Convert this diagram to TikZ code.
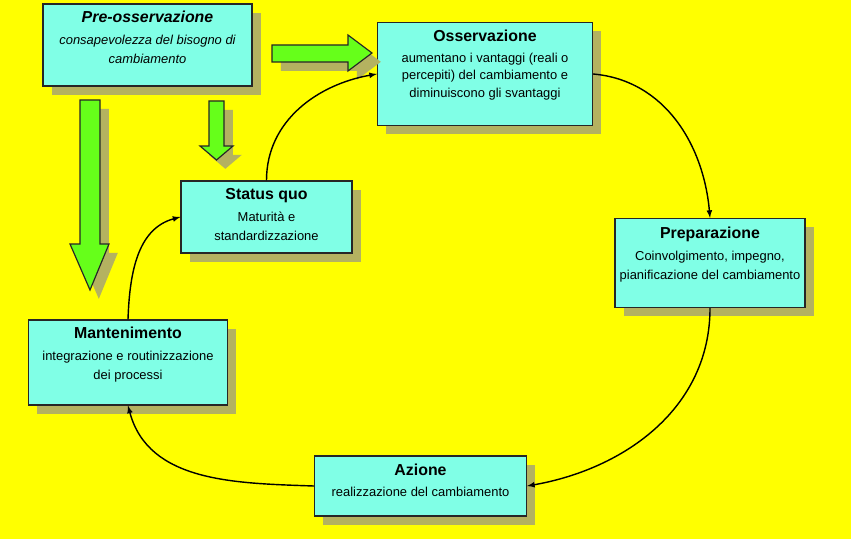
\documentclass[tikz,border=0pt]{standalone}
\usepackage{fontspec}
\setmainfont{Liberation Sans}
\usetikzlibrary{shapes,arrows,positioning,shadows}

\definecolor{bgyellow}{RGB}{255,255,0}
\definecolor{boxcyan}{RGB}{128,255,230}
\definecolor{arrowgreen}{RGB}{102,255,26}
\definecolor{shadowolive}{RGB}{180,178,96}

\newcommand{\px}{0.85pt}
\newcommand{\titlefont}{\fontsize{13.5}{16}\selectfont\bfseries}
\newcommand{\bodyfont}{\fontsize{11}{15.8}\selectfont}

\begin{document}
\begin{tikzpicture}[x=\px,y=\px,
    boxshadow/.style={drop shadow={shadow xshift=7.5pt,shadow yshift=-7.5pt,fill=shadowolive,opacity=1}},
    phase/.style={draw=black!85,line width=1.1pt,fill=boxcyan,boxshadow,inner sep=0pt},
    phasetext/.style={align=center,inner sep=0pt,font=\bodyfont},
    bigarrow/.style={draw=black!85,line width=1pt,fill=arrowgreen,boxshadow},
    flow/.style={-latex,line width=1.2pt}]
    % Background
    \fill [bgyellow] (0,0) rectangle (851,-539);

    % Draw the phases
    \node [phase,minimum width=209*\px,minimum height=82*\px] (pre) at (147.5,-45) {};
    \node [phase,minimum width=215*\px,minimum height=103*\px] (oss) at (485,-74) {};
    \node [phase,minimum width=171*\px,minimum height=72*\px] (sq) at (266.5,-217) {};
    \node [phase,minimum width=190*\px,minimum height=89*\px] (prep) at (710,-263) {};
    \node [phase,minimum width=199*\px,minimum height=85*\px] (man) at (128,-362.5) {};
    \node [phase,minimum width=212*\px,minimum height=60*\px] (az) at (420.5,-486) {};

    \node [phasetext,font=\bodyfont\itshape,below=6.5pt of pre.north] (pre-t)
        {{\titlefont Pre-osservazione}\\[3pt] consapevolezza del bisogno di\\ cambiamento};
    \node [phasetext,below=6.5pt of oss.north] (oss-t)
        {{\titlefont Osservazione}\\[2pt] aumentano i vantaggi (reali o\\[-1pt] percepiti) del cambiamento e\\[-1pt] diminuiscono gli svantaggi};
    \node [phasetext,below=6.5pt of sq.north] (sq-t)
        {{\titlefont Status quo}\\[3pt] Maturità e\\ standardizzazione};
    \node [phasetext,below=7.5pt of prep.north] (prep-t)
        {{\titlefont Preparazione}\\[3pt] Coinvolgimento, impegno,\\ pianificazione del cambiamento};
    \node [phasetext,below=6.5pt of man.north] (man-t)
        {{\titlefont Mantenimento}\\[3pt] integrazione e routinizzazione\\ dei processi};
    \node [phasetext,below=7.5pt of az.north] (az-t)
        {{\titlefont Azione}\\[2pt] realizzazione del cambiamento};

    % Green arrows out of the pre-observation
    \draw [bigarrow] (272,-45) -- (348,-45) -- (348,-35) -- (372,-53)
        -- (348,-71) -- (348,-62) -- (272,-62) -- cycle;
    \draw [bigarrow] (209,-101) -- (224,-101) -- (224,-146) -- (233,-146)
        -- (216.5,-160) -- (200,-146) -- (209,-146) -- cycle;
    \draw [bigarrow] (80,-100) -- (100,-100) -- (100,-244) -- (109,-244)
        -- (90,-290) -- (70,-244) -- (80,-244) -- cycle;

    % The cycle
    \draw [flow] (sq.north) to[out=90,in=190] (oss.west);
    \draw [flow] (oss.east) to[out=-5,in=95] (prep.north);
    \draw [flow] (prep.south) to[out=-90,in=10] (az.east);
    \draw [flow] (az.west) to[out=178,in=-75] (man.south);
    \draw [flow] (man.north) to[out=88,in=195] (sq.west);
\end{tikzpicture}
\end{document}
